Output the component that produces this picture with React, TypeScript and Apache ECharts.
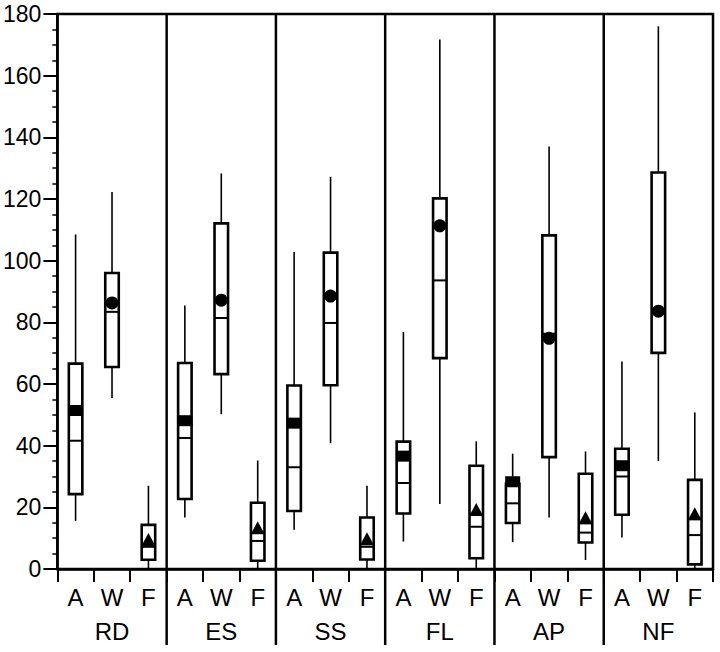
import React, { useEffect, useRef } from "react";
import * as echarts from "echarts";

const groups = ["RD", "ES", "SS", "FL", "AP", "NF"];
const subLabels = ["A", "W", "F"];
const yTicks = { min: 0, max: 180, interval: 20 };

// order per group: A, W, F
const whiskerLow = [15.6, 55.5, 0, 16.7, 50.2, 0, 12.7, 40.8, 0, 8.9, 21.1, 0, 8.7, 16.7, 2.9, 10.2, 35, 0];
const quartile1 = [24.3, 65.5, 3, 22.7, 63.2, 2.7, 18.8, 59.6, 3.1, 18, 68.4, 3.5, 14.9, 36.3, 8.6, 17.6, 70.1, 1.5];
const medians = [41.6, 83.4, 7.2, 42.5, 81.4, 9.1, 33, 79.8, 7.2, 27.9, 93.6, 13.7, 21.3, 76.3, 11.8, 30, 83.6, 11];
const quartile3 = [66.6, 96, 14.3, 66.8, 112.1, 21.5, 59.5, 102.6, 16.7, 41.3, 120.2, 33.5, 27.6, 108.2, 30.9, 39, 128.6, 28.9];
const whiskerHigh = [108.5, 122.3, 27, 85.5, 128.3, 35.2, 102.8, 127.2, 27, 76.9, 171.7, 41.4, 37.4, 137, 38.1, 67.3, 176, 50.8];
const means = [51.4, 86.3, 7.8, 48.1, 87.2, 11.6, 47.3, 88.5, 8, 36.6, 111.3, 17.5, 28.3, 74.8, 14.8, 33.5, 83.6, 16.1];

const FONT = "'Liberation Sans', Arial, Helvetica, sans-serif";

export default function App() {
  const ref = useRef<HTMLDivElement>(null);
  useEffect(() => {
    if (!ref.current) return;
    const chart = echarts.init(ref.current, null, { renderer: "svg" });
    const cats: string[] = [];
    groups.forEach(() => subLabels.forEach((s) => cats.push(s)));
    const boxData = cats.map((_, i) => [
      i,
      whiskerLow[i],
      quartile1[i],
      medians[i],
      quartile3[i],
      whiskerHigh[i],
      means[i],
      i % 3,
    ]);
    const dividerData = groups.slice(0, groups.length - 1).map((_, i) => [i]);

    const option: any = {
      animation: false,
      backgroundColor: "#fff",
      grid: {
        left: 57,
        right: 7,
        top: 14,
        bottom: 83,
        show: true,
        borderColor: "#000",
        borderWidth: 2.5,
        backgroundColor: "transparent",
      },
      xAxis: [
        {
          type: "category",
          data: cats,
          position: "bottom",
          boundaryGap: true,
          axisLine: { show: true, lineStyle: { color: "#000", width: 2.5 } },
          axisTick: { show: true, length: 13, inside: false, lineStyle: { color: "#000", width: 2 } },
          axisLabel: { color: "#000", fontSize: 24, fontFamily: FONT, margin: 16, interval: 0 },
          splitLine: { show: false },
        },
        {
          type: "category",
          data: groups,
          position: "bottom",
          boundaryGap: true,
          axisLine: { show: false },
          axisTick: { show: false },
          axisLabel: { color: "#000", fontSize: 24, fontFamily: FONT, margin: 50, interval: 0 },
          splitLine: { show: false },
        },
      ],
      yAxis: {
        type: "value",
        min: yTicks.min,
        max: yTicks.max,
        interval: yTicks.interval,
        axisLine: { show: true, lineStyle: { color: "#000", width: 2.5 } },
        axisTick: { show: true, length: 14, inside: false, lineStyle: { color: "#000", width: 2 } },
        minorTick: { show: true, splitNumber: 4, length: 5, lineStyle: { color: "#000", width: 1.5 } },
        axisLabel: { color: "#000", fontSize: 23, fontFamily: FONT, margin: 16 },
        splitLine: { show: false },
      },
      series: [
        {
          type: "custom",
          xAxisIndex: 1,
          yAxisIndex: 0,
          data: dividerData,
          clip: false,
          renderItem: (params: any, api: any) => {
            const idx = api.value(0);
            const top = api.coord([idx, yTicks.max]);
            const bot = api.coord([idx, yTicks.min]);
            const w = api.size([1, 0])[0];
            const x = top[0] + w / 2;
            return {
              type: "line",
              shape: { x1: x, y1: top[1], x2: x, y2: bot[1] + 76 },
              style: { stroke: "#000", lineWidth: 2.5 },
            };
          },
        },
        {
          type: "custom",
          xAxisIndex: 0,
          yAxisIndex: 0,
          data: boxData,
          clip: false,
          renderItem: (params: any, api: any) => {
            const xi = api.value(0);
            const lo = api.coord([xi, api.value(1)]);
            const q1 = api.coord([xi, api.value(2)]);
            const md = api.coord([xi, api.value(3)]);
            const q3 = api.coord([xi, api.value(4)]);
            const hi = api.coord([xi, api.value(5)]);
            const mn = api.coord([xi, api.value(6)]);
            const kind = api.value(7);
            const cx = q1[0];
            const bw = 13.5;
            const stroke = "#000";
            const children: any[] = [
              { type: "line", shape: { x1: cx, y1: hi[1], x2: cx, y2: q3[1] }, style: { stroke, lineWidth: 1.6 } },
              { type: "line", shape: { x1: cx, y1: q1[1], x2: cx, y2: lo[1] }, style: { stroke, lineWidth: 1.6 } },
              {
                type: "rect",
                shape: { x: cx - bw / 2, y: q3[1], width: bw, height: q1[1] - q3[1] },
                style: { fill: "#fff", stroke, lineWidth: 2.6 },
              },
              {
                type: "line",
                shape: { x1: cx - bw / 2, y1: md[1], x2: cx + bw / 2, y2: md[1] },
                style: { stroke, lineWidth: 2 },
              },
            ];
            if (kind === 0) {
              children.push({
                type: "rect",
                shape: { x: cx - 7.5, y: mn[1] - 5.5, width: 15, height: 11 },
                style: { fill: stroke },
              });
            } else if (kind === 1) {
              children.push({
                type: "circle",
                shape: { cx, cy: mn[1], r: 6.5 },
                style: { fill: stroke },
              });
            } else {
              children.push({
                type: "line",
                shape: { x1: cx - bw / 2, y1: mn[1], x2: cx + bw / 2, y2: mn[1] },
                style: { stroke, lineWidth: 2 },
              });
              children.push({
                type: "polygon",
                shape: { points: [[cx - 6.5, mn[1]], [cx + 6.5, mn[1]], [cx, mn[1] - 12]] },
                style: { fill: stroke },
              });
            }
            return { type: "group", children };
          },
        },
      ],
    };
    chart.setOption(option);
    return () => chart.dispose();
  }, []);
  return (
    <div
      ref={ref}
      style={{ position: "absolute", left: 0, top: 0, width: 720, height: 652, background: "#fff" }}
    />
  );
}
